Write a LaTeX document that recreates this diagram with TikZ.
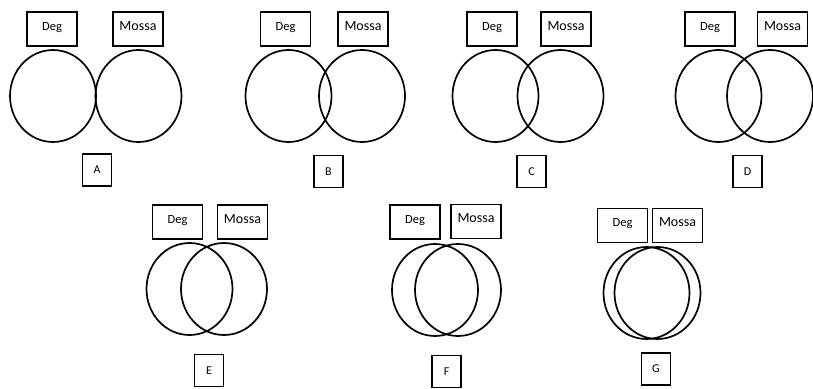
\documentclass[tikz,border=0pt]{standalone}
\usepackage{fontspec}
\setmainfont{Carlito}
\usetikzlibrary{shapes.geometric}
\begin{document}
\begin{tikzpicture}[
	x=1pt, y=-1pt,
	lbl/.style={draw, line width=1.1pt, minimum width=50pt, minimum height=34pt, inner sep=0pt, text height=8pt, text depth=6pt},
	deg/.style={lbl, font=\fontsize{12.5}{12.5}\selectfont},
	mossa/.style={lbl, font=\fontsize{14}{14}\selectfont},
	set/.style={draw, ellipse, line width=1.7pt, minimum width=86pt, minimum height=92pt, inner sep=0pt},
	tag/.style={draw, line width=1.1pt, minimum width=29pt, minimum height=32pt, inner sep=0pt, font=\fontsize{12}{12}\selectfont},
	]
\useasboundingbox (0,0) rectangle (813,388);
% panel / Deg box / Mossa box / circles / letter box
\foreach \p/\dx/\dy/\mx/\my/\cl/\cr/\cy/\lx/\ly in {
	A/52/29/138/29/53/138.5/96/97/170,
	B/285.5/29/363/29/288.5/362/96/328.5/171.5,
	C/492/29/566/29/495.5/560.5/96/531.5/171.5,
	D/710/29/782.5/29/718.5/770/96/747.5/171.5,
	E/177.5/222/242.5/222/189.5/224/289/209/370.5,
	F/415/222/476/221.5/435/458/290/446.5/371.5,
	G/622.5/225.5/677.5/225.5/646.5/657.5/293/656/369}
{
	\node [deg] (deg\p) at (\dx,\dy) {Deg};
	\node [mossa] (mossa\p) at (\mx,\my) {Mossa};
	\node [set] (left\p) at (\cl,\cy) {};
	\node [set] (right\p) at (\cr,\cy) {};
	\node [tag] (tag\p) at (\lx,\ly) {\p};
}
\end{tikzpicture}
\end{document}
